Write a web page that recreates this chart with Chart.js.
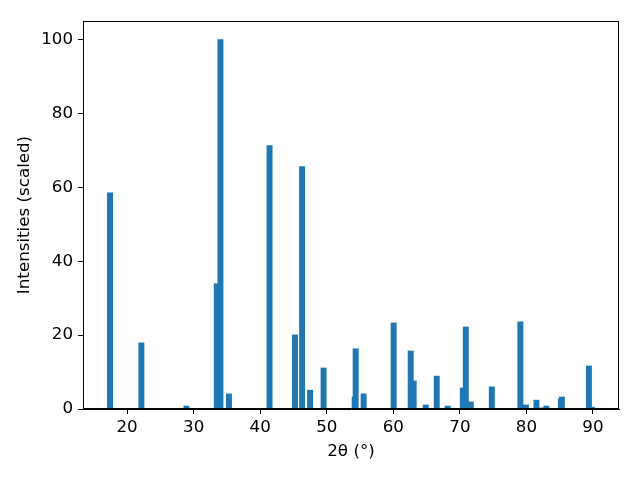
<!DOCTYPE html>
<html>
<head>
<meta charset="utf-8">
<script src="https://cdn.jsdelivr.net/npm/chart.js@4/dist/chart.umd.min.js"></script>
<style>
  html, body { margin: 0; padding: 0; background: #ffffff; }
  #wrap { width: 640px; height: 480px; }
</style>
</head>
<body>
<div id="wrap"><canvas id="c" width="640" height="480"></canvas></div>
<script>
// 2-theta peak positions (degrees)
const twoTheta = [17.43, 22.14, 28.91, 33.47, 34.02, 35.30, 41.40, 45.23, 46.29, 47.49,
                  49.52, 54.19, 54.34, 55.54, 60.05, 62.61, 63.06, 64.87, 66.52, 68.03,
                  68.18, 70.44, 70.89, 71.64, 74.80, 79.09, 79.92, 81.50, 82.32, 83.00,
                  85.18, 85.33, 89.39, 89.85];
// scaled intensities
const intensities = [58.5, 17.9, 0.8, 33.9, 100, 4.1, 71.3, 20.05, 65.6, 5.1,
                     11.1, 3.25, 16.3, 4.1, 23.3, 15.7, 7.6, 1.1, 8.9, 0.3,
                     0.8, 5.7, 22.2, 1.9, 6.0, 23.6, 1.1, 2.4, 0.3, 0.8,
                     2.7, 3.25, 11.65, 0.5];
const xTicks = [20, 30, 40, 50, 60, 70, 80, 90];
const yTicks = [0, 20, 40, 60, 80, 100];
const xLabel = '2θ (°)';
const yLabel = 'Intensities (scaled)';

const points = twoTheta.map((x, i) => ({ x: x, y: intensities[i] }));

const frame = {
  id: 'frame',
  afterDraw(chart) {
    const a = chart.chartArea, ctx = chart.ctx;
    ctx.save();
    ctx.strokeStyle = '#000000';
    ctx.lineWidth = 1;
    ctx.strokeRect(Math.round(a.left) + 0.5, Math.round(a.top) + 0.5,
                   Math.round(a.right - a.left) - 1, Math.round(a.bottom - a.top) - 1);
    ctx.restore();
  }
};

const font = { family: 'DejaVu Sans', size: 16.7 };

new Chart(document.getElementById('c'), {
  type: 'bar',
  data: {
    datasets: [{
      data: points,
      backgroundColor: '#1f77b4',
      borderWidth: 0,
      barThickness: 5.3
    }]
  },
  options: {
    responsive: false,
    devicePixelRatio: 1,
    animation: false,
    layout: { padding: { top: 21, right: 21, left: 0, bottom: 0 } },
    plugins: { legend: { display: false }, tooltip: { enabled: false } },
    scales: {
      x: {
        type: 'linear',
        min: 13.37,
        max: 93.91,
        offset: false,
        afterBuildTicks: (s) => { s.ticks = xTicks.map(v => ({ value: v })); },
        afterFit: (s) => { s.height = 71; },
        grid: { offset: false, drawOnChartArea: false, drawTicks: true, tickLength: 5, color: '#000000', lineWidth: 1 },
        border: { display: true, color: '#000000', width: 1 },
        ticks: { color: '#000000', font: font, padding: 4, maxRotation: 0, autoSkip: false },
        title: { display: true, text: xLabel, color: '#000000', font: font, padding: { top: 0, bottom: 18 } }
      },
      y: {
        type: 'linear',
        min: 0,
        max: 105,
        afterBuildTicks: (s) => { s.ticks = yTicks.map(v => ({ value: v })); },
        afterFit: (s) => { s.width = 83; },
        grid: { offset: false, drawOnChartArea: false, drawTicks: true, tickLength: 5, color: '#000000', lineWidth: 1 },
        border: { display: true, color: '#000000', width: 1 },
        ticks: { color: '#000000', font: font, padding: 5, autoSkip: false },
        title: { display: true, text: yLabel, color: '#000000', font: font, padding: { top: 15, bottom: 0 } }
      }
    }
  },
  plugins: [frame]
});
</script>
</body>
</html>
